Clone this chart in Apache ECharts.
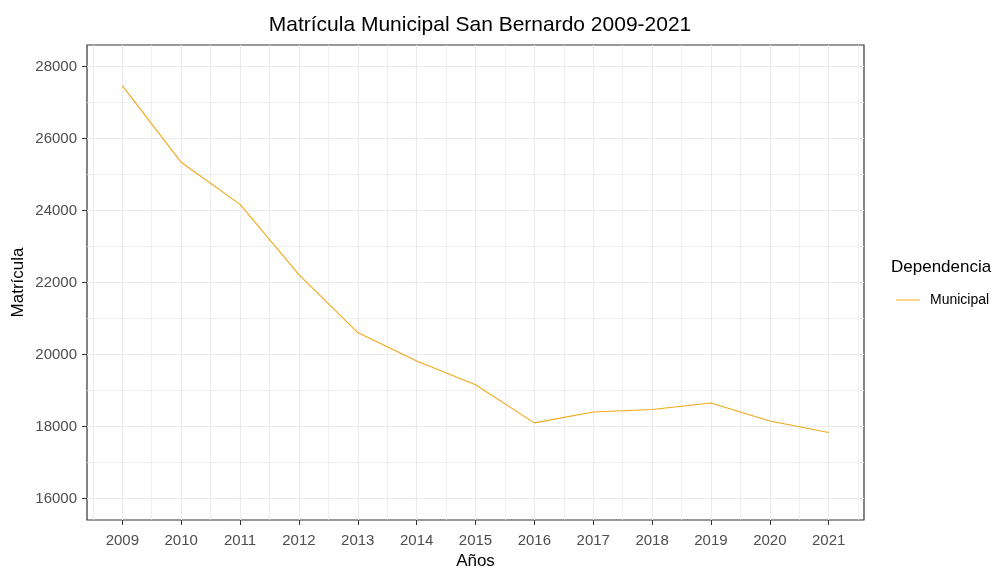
<!DOCTYPE html>
<html>
<head>
<meta charset="utf-8">
<script src="https://cdn.jsdelivr.net/npm/echarts@6/dist/echarts.min.js"></script>
<style>
  html, body { margin: 0; padding: 0; background: #fff; }
  #main { width: 1004px; height: 567px; }
</style>
</head>
<body>
<div id="main"></div>
<script>
(function(){
var myChart = echarts.init(document.getElementById('main'));

// datos
var anios = [2009, 2010, 2011, 2012, 2013, 2014, 2015, 2016, 2017, 2018, 2019, 2020, 2021];
var matricula = [27470, 25340, 24170, 22220, 20610, 19820, 19160, 18100, 18400, 18470, 18650, 18150, 17830];
var serieNombre = 'Municipal';
// marcas de los ejes
var yTicks = [16000, 18000, 20000, 22000, 24000, 26000, 28000];
var yMinor = [17000, 19000, 21000, 23000, 25000, 27000];
var xMinor = [2008.5, 2009.5, 2010.5, 2011.5, 2012.5, 2013.5, 2014.5, 2015.5, 2016.5, 2017.5, 2018.5, 2019.5, 2020.5, 2021.5];

var fuente = 'Liberation Sans, Arial, sans-serif';
var grilla = '#EBEBEB';
var sinComa = function (v) { return String(v); };

option = {
    backgroundColor: '#fff',
    animation: false,
    title: {
        text: 'Matrícula Municipal San Bernardo 2009-2021',
        left: 475, top: 10, textAlign: 'center',
        textStyle: { fontFamily: fuente, fontSize: 21, fontWeight: 'normal', color: '#000' }
    },
    legend: {
        data: [serieNombre],
        orient: 'vertical',
        left: 891, top: 288,
        itemWidth: 24, itemHeight: 14, itemGap: 6,
        icon: 'path://M0,6.5 L24,6.5 L24,7.5 L0,7.5 Z',
        textStyle: { fontFamily: fuente, fontSize: 14, color: '#000', padding: [0, 0, 0, 5] }
    },
    graphic: [{
        type: 'text', left: 891, top: 259,
        style: { text: 'Dependencia', font: '17px ' + fuente, fill: '#000' }
    }],
    grid: {
        left: 87, right: 140, top: 45, bottom: 47,
        outerBoundsMode: 'none', containLabel: false,
        show: true, borderColor: '#333', borderWidth: 1.2, backgroundColor: '#fff'
    },
    xAxis: [{
        type: 'value', min: 2008.4, max: 2021.6,
        name: 'Años', nameLocation: 'middle', nameGap: 33, nameMoveOverlap: false,
        nameTextStyle: { fontFamily: fuente, fontSize: 17, color: '#000' },
        axisLine: { show: false },
        axisTick: { show: true, length: 5, customValues: anios, lineStyle: { color: '#333' } },
        axisLabel: { customValues: anios, formatter: sinComa, fontFamily: fuente, fontSize: 15, color: '#4D4D4D', margin: 13 },
        splitLine: { show: true, lineStyle: { color: grilla, width: 1.1 } }
    }, {
        type: 'value', min: 2008.4, max: 2021.6, position: 'bottom',
        axisLine: { show: false },
        axisTick: { show: false, customValues: xMinor },
        axisLabel: { show: false, customValues: xMinor },
        splitLine: { show: true, lineStyle: { color: grilla, width: 0.8 } }
    }],
    yAxis: [{
        type: 'value', min: 15400, max: 28600,
        name: 'Matrícula', nameLocation: 'middle', nameGap: 60, nameRotate: 90, nameMoveOverlap: false,
        nameTextStyle: { fontFamily: fuente, fontSize: 17, color: '#000' },
        axisLine: { show: false },
        axisTick: { show: true, length: 5, customValues: yTicks, lineStyle: { color: '#333' } },
        axisLabel: { customValues: yTicks, formatter: sinComa, fontFamily: fuente, fontSize: 15, color: '#4D4D4D', margin: 10 },
        splitLine: { show: true, lineStyle: { color: grilla, width: 1.1 } }
    }, {
        type: 'value', min: 15400, max: 28600, position: 'left',
        axisLine: { show: false },
        axisTick: { show: false, customValues: yMinor },
        axisLabel: { show: false, customValues: yMinor },
        splitLine: { show: true, lineStyle: { color: grilla, width: 0.8 } }
    }],
    series: [{
        name: serieNombre,
        type: 'line',
        xAxisIndex: 0, yAxisIndex: 0,
        data: anios.map(function (a, i) { return [a, matricula[i]]; }),
        symbol: 'none',
        color: '#F0A818',
        lineStyle: { width: 1.1, color: '#F0A818' },
        z: 5
    }]
};
myChart.setOption(option);
})();
</script>
</body>
</html>
